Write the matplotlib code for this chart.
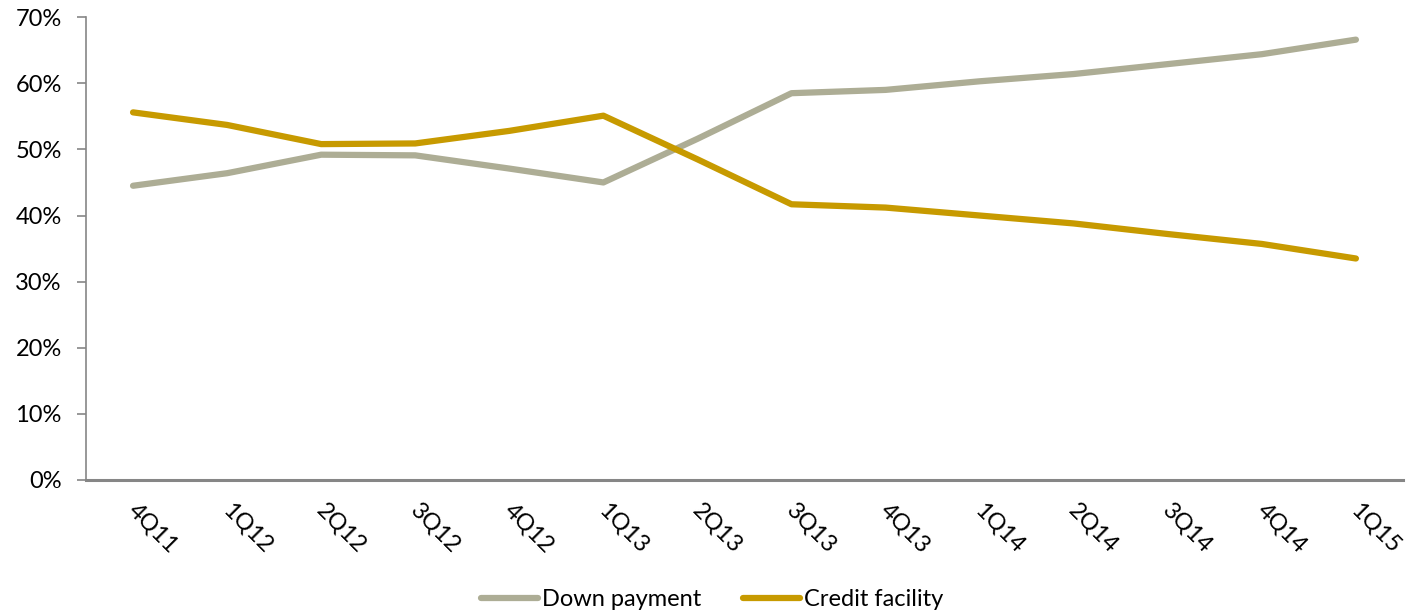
import matplotlib
matplotlib.use("Agg")
import matplotlib.pyplot as plt
import matplotlib.transforms as mtransforms
from matplotlib.ticker import FuncFormatter, MultipleLocator

quarters = ["4Q11", "1Q12", "2Q12", "3Q12", "4Q12", "1Q13", "2Q13",
            "3Q13", "4Q13", "1Q14", "2Q14", "3Q14", "4Q14", "1Q15"]
down_payment = [44.5, 46.4, 49.2, 49.1, 47.1, 45.0, 51.6,
                58.5, 59.0, 60.3, 61.4, 62.9, 64.4, 66.6]
credit_facility = [55.6, 53.7, 50.8, 50.9, 52.8, 55.1, 48.5,
                   41.7, 41.2, 40.0, 38.8, 37.2, 35.7, 33.5]

plt.rcParams["font.family"] = ["Lato", "DejaVu Sans"]

fig = plt.figure(figsize=(14.1, 6.13), dpi=100)
ax = fig.add_axes([0.061, 0.217, 0.934, 0.755])

x = range(len(quarters))
ax.plot(x, down_payment, color="#ADAD95", lw=4.5, solid_capstyle="round",
        solid_joinstyle="round", label="Down payment")
ax.plot(x, credit_facility, color="#C79A00", lw=4.5, solid_capstyle="round",
        solid_joinstyle="round", label="Credit facility")

ax.set_xlim(-0.5, len(quarters) - 0.5)
ax.set_ylim(0, 70)
ax.yaxis.set_major_locator(MultipleLocator(10))
ax.yaxis.set_major_formatter(FuncFormatter(lambda v, p: f"{v:.0f}%"))

for s in ("top", "right"):
    ax.spines[s].set_visible(False)
ax.spines["left"].set_color("#868686")
ax.spines["left"].set_linewidth(1.2)
ax.spines["bottom"].set_color("#868686")
ax.spines["bottom"].set_linewidth(2.2)

ax.tick_params(axis="y", length=6.5, width=1.2, color="#868686",
               labelsize=17, pad=11, labelcolor="#000000")
ax.tick_params(axis="x", length=0, labelsize=17, pad=14, labelcolor="#000000")

ax.set_xticks(list(x))
ax.set_xticklabels(quarters, rotation=-45, ha="left", va="top",
                   rotation_mode="anchor")
# nudge the slanted quarter labels a few pixels to the right
shift = mtransforms.ScaledTranslation(6 / 100, 0, fig.dpi_scale_trans)
for tick in ax.xaxis.get_major_ticks():
    tick.label1.set_transform(tick.label1.get_transform() + shift)

fig.legend(loc="center", ncol=2, frameon=False, fontsize=17,
           handlelength=2.4, handletextpad=0.15, columnspacing=1.8,
           bbox_to_anchor=(0.505, 1 - 600 / 613))

fig.savefig("out.png", dpi=100)
